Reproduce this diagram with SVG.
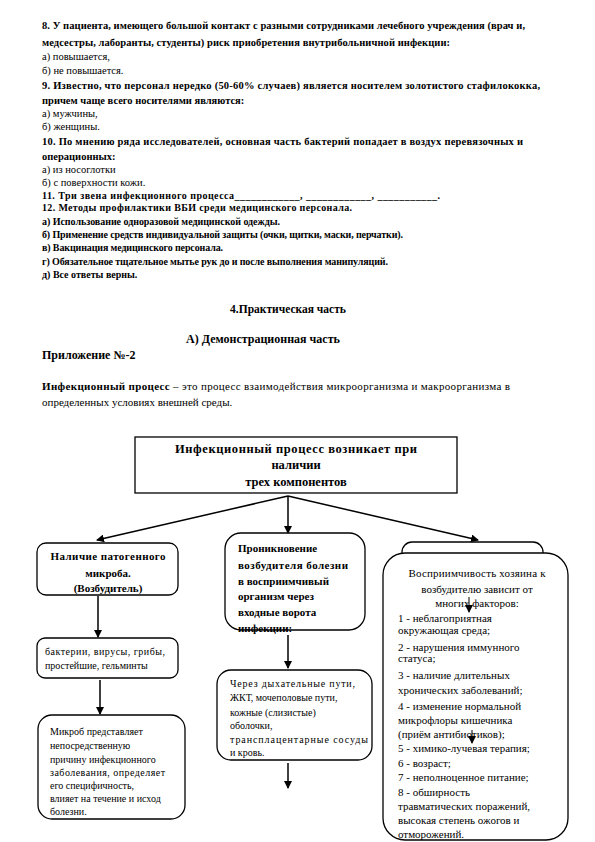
<svg xmlns="http://www.w3.org/2000/svg" width="595" height="842" viewBox="0 0 595 842">
<style>
text{font-family:"Liberation Serif","Tinos","DejaVu Serif","Noto Serif","Times New Roman",serif;fill:#000}
.q{font-size:10.5px;font-weight:bold}
.a{font-size:10.5px}
.qb{font-size:10px;font-weight:bold}
.h{font-size:12px;font-weight:bold}
.bx{fill:#fff;stroke:#000;stroke-width:1.3}
.t12{font-size:12.5px;font-weight:bold}
.b11{font-size:11px;font-weight:bold}
.r10{font-size:10px}
.r11{font-size:11px}
.ln{stroke:#000;stroke-width:1.5;fill:none}
</style>
<defs>
<marker id="ar" markerWidth="8" markerHeight="8" refX="7" refY="4" orient="auto" markerUnits="userSpaceOnUse">
<path d="M0,0 L8,4 L0,8 Z" fill="#000"/>
</marker>
</defs>
<rect width="595" height="842" fill="#fff"/>

<g id="questions">
<text class="q" x="42" y="29" textLength="483" lengthAdjust="spacing">8. У пациента, имеющего большой контакт с разными сотрудниками лечебного учреждения (врач и,</text>
<text class="q" x="42" y="46" textLength="408" lengthAdjust="spacing">медсестры, лаборанты, студенты) риск приобретения внутрибольничной инфекции:</text>
<text class="a" x="42" y="60">а) повышается,</text>
<text class="a" x="42" y="74">б) не повышается.</text>
<text class="q" x="42" y="89" textLength="498" lengthAdjust="spacing">9. Известно, что персонал нередко (50-60% случаев) является носителем золотистого стафилококка,</text>
<text class="q" x="42" y="104">причем чаще всего носителями являются:</text>
<text class="a" x="42" y="117">а) мужчины,</text>
<text class="a" x="42" y="130">б) женщины.</text>
<text class="q" x="42" y="145" textLength="481" lengthAdjust="spacing">10. По мнению ряда исследователей, основная часть бактерий попадает в воздух перевязочных и</text>
<text class="q" x="42" y="160">операционных:</text>
<text class="a" x="42" y="173">а) из носоглотки</text>
<text class="a" x="42" y="186">б) с поверхности кожи.</text>
<text class="qb" x="42" y="199" textLength="398" lengthAdjust="spacing">11. Три звена инфекционного процесса____________, ____________, ___________.</text>
<text class="qb" x="42" y="211" textLength="310" lengthAdjust="spacing">12. Методы профилактики ВБИ среди медицинского персонала.</text>
<text class="qb" x="42" y="225" textLength="238" lengthAdjust="spacing">а) Использование одноразовой медицинской одежды.</text>
<text class="qb" x="42" y="238" textLength="361" lengthAdjust="spacing">б) Применение средств индивидуальной защиты (очки, щитки, маски, перчатки).</text>
<text class="qb" x="42" y="251" textLength="181" lengthAdjust="spacing">в) Вакцинация медицинского персонала.</text>
<text class="qb" x="42" y="265" textLength="346" lengthAdjust="spacing">г) Обязательное тщательное мытье рук до и после выполнения манипуляций.</text>
<text class="qb" x="42" y="278">д) Все ответы верны.</text>
</g>

<g id="section">
<text x="288" y="313" text-anchor="middle" font-size="11.5" font-weight="bold">4.Практическая часть</text>
<text class="h" x="263" y="343" text-anchor="middle">А) Демонстрационная часть</text>
<text class="h" x="42" y="359">Приложение №-2</text>
<text class="r11" x="42" y="390" textLength="468" lengthAdjust="spacing"><tspan font-weight="bold">Инфекционный процесс</tspan> – это процесс взаимодействия микроорганизма и макроорганизма в</text>
<text class="r11" x="42" y="406">определенных условиях внешней среды.</text>
</g>

<g id="connectors">
<line class="ln" x1="288" y1="496" x2="97" y2="540" marker-end="url(#ar)"/>
<line class="ln" x1="288" y1="496" x2="478" y2="540" marker-end="url(#ar)"/>
<line class="ln" x1="288" y1="496" x2="288" y2="533" marker-end="url(#ar)"/>
<line class="ln" x1="98" y1="596" x2="98" y2="637" marker-end="url(#ar)"/>
<line class="ln" x1="100" y1="680" x2="100" y2="714" marker-end="url(#ar)"/>
<line class="ln" x1="288" y1="635" x2="288" y2="668" marker-end="url(#ar)"/>
<line class="ln" x1="288" y1="763" x2="288" y2="788" marker-end="url(#ar)"/>
</g>

<g id="top">
<rect class="bx" x="135" y="437" width="322" height="56"/>
<text class="t12" x="296" y="453" text-anchor="middle" textLength="242" lengthAdjust="spacing">Инфекционный процесс возникает при</text>
<text class="t12" x="296" y="469" text-anchor="middle">наличии</text>
<text class="t12" x="296" y="486" text-anchor="middle">трех компонентов</text>
</g>

<g id="pathogen">
<rect class="bx" x="37" y="543" width="141" height="52" rx="9"/>
<text class="b11" x="108" y="560" text-anchor="middle" textLength="115" lengthAdjust="spacing">Наличие патогенного</text>
<text class="b11" x="108" y="577" text-anchor="middle">микроба.</text>
<text class="b11" x="108" y="592" text-anchor="middle">(Возбудитель)</text>
</g>

<g id="types">
<rect class="bx" x="37" y="638" width="141" height="40" rx="8"/>
<text class="r10" x="45" y="655" textLength="120" lengthAdjust="spacing">бактерии, вирусы, грибы,</text>
<text class="r10" x="45" y="669">простейшие, гельминты</text>
</g>

<g id="microbe">
<rect class="bx" x="38" y="715" width="147" height="104" rx="14"/>
<text class="r10" x="50" y="735">Микроб представляет</text>
<text class="r10" x="50" y="749">непосредственную</text>
<text class="r10" x="50" y="763">причину инфекционного</text>
<text class="r10" x="50" y="776" textLength="115" lengthAdjust="spacing">заболевания, определяет</text>
<text class="r10" x="50" y="789">его специфичность,</text>
<text class="r10" x="50" y="802">влияет на течение и исход</text>
<text class="r10" x="50" y="815">болезни.</text>
</g>

<g id="penetration">
<rect class="bx" x="225" y="533" width="140" height="97" rx="16"/>
<text class="b11" x="238" y="552">Проникновение</text>
<text class="b11" x="238" y="569" textLength="110" lengthAdjust="spacing">возбудителя болезни</text>
<text class="b11" x="238" y="585">в восприимчивый</text>
<text class="b11" x="238" y="600">организм  через</text>
<text class="b11" x="238" y="616">входные ворота</text>
<text class="b11" x="238" y="632">инфекции:</text>
</g>

<g id="routes">
<rect class="bx" x="217" y="670" width="155" height="90" rx="14"/>
<text class="r10" x="230" y="687" textLength="125" lengthAdjust="spacing">Через дыхательные пути,</text>
<text class="r10" x="230" y="701">ЖКТ, мочеполовые пути,</text>
<text class="r10" x="230" y="716">кожные (слизистые)</text>
<text class="r10" x="230" y="729">оболочки,</text>
<text class="r10" x="230" y="743" textLength="138" lengthAdjust="spacing">трансплацентарные сосуды</text>
<text class="r10" x="230" y="756">и кровь.</text>
</g>

<g id="host-back">
<rect class="bx" x="402" y="542" width="141" height="60" rx="10"/>
<text class="b11" x="432" y="560">О</text>
</g>

<g id="host">
<rect class="bx" x="383" y="553" width="185" height="287" rx="22"/>
<text class="r11" x="477" y="577" text-anchor="middle" textLength="137" lengthAdjust="spacing">Восприимчивость хозяина к</text>
<text class="r11" x="477" y="593" text-anchor="middle">возбудителю зависит от</text>
<text class="r11" x="477" y="607" text-anchor="middle">многих факторов:</text>
<text class="r11" x="398" y="622">1 - неблагоприятная</text>
<text class="r11" x="398" y="634">окружающая среда;</text>
<text class="r11" x="398" y="651">2 - нарушения иммунного</text>
<text class="r11" x="398" y="662">статуса;</text>
<text class="r11" x="398" y="679">3 - наличие длительных</text>
<text class="r11" x="398" y="694">хронических заболеваний;</text>
<text class="r11" x="398" y="710">4 - изменение нормальной</text>
<text class="r11" x="398" y="724">микрофлоры кишечника</text>
<text class="r11" x="398" y="738">(приём антибиотиков);</text>
<text class="r11" x="398" y="752">5 - химико-лучевая терапия;</text>
<text class="r11" x="398" y="767">6 - возраст;</text>
<text class="r11" x="398" y="781">7 - неполноценное питание;</text>
<text class="r11" x="398" y="796">8 - обширность</text>
<text class="r11" x="398" y="810">травматических поражений,</text>
<text class="r11" x="398" y="824">высокая степень ожогов и</text>
<text class="r11" x="398" y="838">отморожений.</text>
</g>

<g id="host-arrows">
<line x1="469" y1="597" x2="469" y2="612" stroke="#000" stroke-width="1" marker-end="url(#ar)"/>
<line x1="472" y1="730" x2="472" y2="743" stroke="#000" stroke-width="1" marker-end="url(#ar)"/>
</g>
</svg>
